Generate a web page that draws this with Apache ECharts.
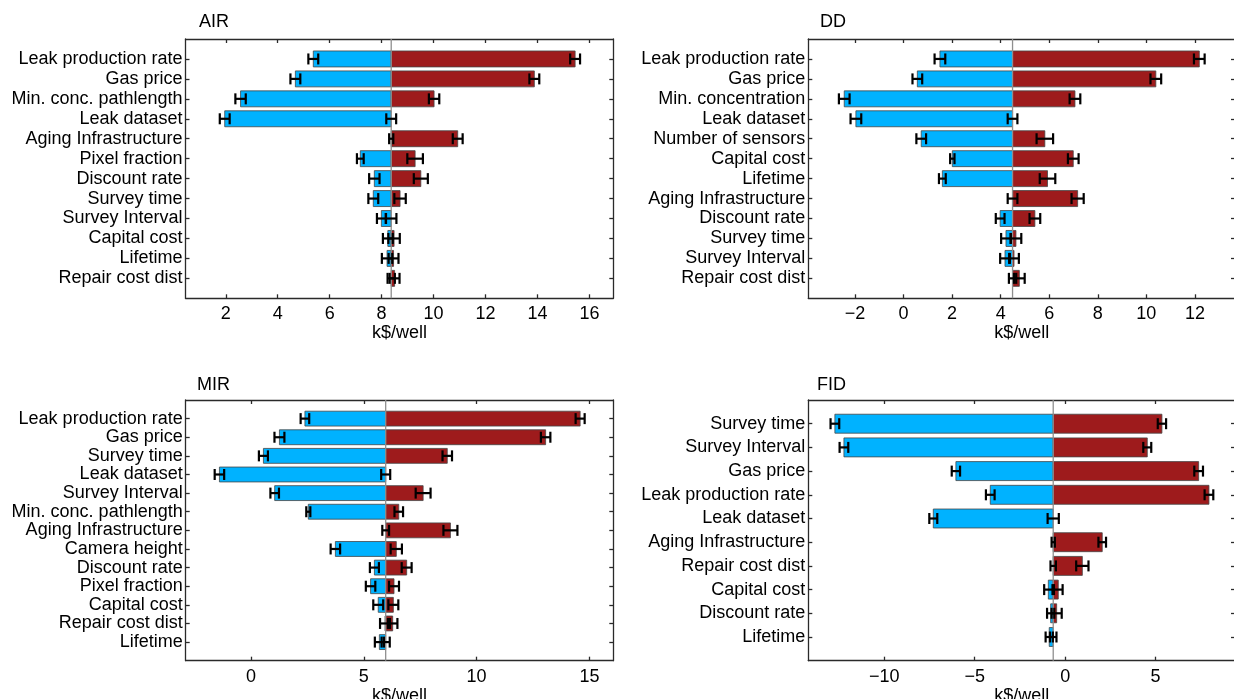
<!DOCTYPE html>
<html><head><meta charset="utf-8">
<script src="https://cdn.jsdelivr.net/npm/echarts@6/dist/echarts.min.js"></script>
<style>html,body{margin:0;padding:0;background:#fff}#c{width:1234px;height:699px}</style>
</head><body><div id="c"></div><script>
// ---------- DATA ----------
const AIR_categories = ['Leak production rate','Gas price','Min. conc. pathlength','Leak dataset','Aging Infrastructure','Pixel fraction','Discount rate','Survey time','Survey Interval','Capital cost','Lifetime','Repair cost dist'];
const AIR_base = 8.37;
const AIR_low  = [5.37, 4.68, 2.57, 1.96, 8.37, 7.18, 7.72, 7.68, 7.99, 8.24, 8.21, 8.37];
const AIR_high = [15.45, 13.88, 10.02, 8.37, 10.93, 9.29, 9.51, 8.71, 8.37, 8.48, 8.46, 8.50];
const AIR_lowErr  = [0.19, 0.19, 0.20, 0.19, 0.08, 0.13, 0.20, 0.19, 0.17, 0.19, 0.20, 0.14];
const AIR_highErr = [0.19, 0.19, 0.20, 0.19, 0.19, 0.30, 0.27, 0.22, 0.20, 0.22, 0.19, 0.19];
const AIR_xticks = [2, 4, 6, 8, 10, 12, 14, 16];

const DD_categories = ['Leak production rate','Gas price','Min. concentration','Leak dataset','Number of sensors','Capital cost','Lifetime','Aging Infrastructure','Discount rate','Survey time','Survey Interval','Repair cost dist'];
const DD_base = 4.49;
const DD_low  = [1.50, 0.57, -2.44, -1.96, 0.73, 2.01, 1.60, 4.49, 3.98, 4.22, 4.18, 4.49];
const DD_high = [12.18, 10.39, 7.06, 4.49, 5.82, 6.99, 5.93, 7.17, 5.41, 4.63, 4.55, 4.77];
const DD_lowErr  = [0.22, 0.20, 0.22, 0.22, 0.20, 0.09, 0.14, 0.20, 0.18, 0.20, 0.20, 0.15];
const DD_highErr = [0.22, 0.22, 0.22, 0.20, 0.34, 0.22, 0.32, 0.25, 0.22, 0.22, 0.20, 0.22];
const DD_xticks = [-2, 0, 2, 4, 6, 8, 10, 12];

const MIR_categories = ['Leak production rate','Gas price','Survey time','Leak dataset','Survey Interval','Min. conc. pathlength','Aging Infrastructure','Camera height','Discount rate','Pixel fraction','Capital cost','Repair cost dist','Lifetime'];
const MIR_base = 5.97;
const MIR_low  = [2.39, 1.26, 0.55, -1.40, 1.05, 2.54, 5.97, 3.74, 5.47, 5.30, 5.64, 5.94, 5.69];
const MIR_high = [14.59, 13.06, 8.70, 5.97, 7.63, 6.55, 8.84, 6.44, 6.90, 6.34, 6.31, 6.28, 5.97];
const MIR_lowErr  = [0.19, 0.22, 0.20, 0.21, 0.19, 0.09, 0.15, 0.21, 0.20, 0.21, 0.22, 0.22, 0.20];
const MIR_highErr = [0.20, 0.21, 0.21, 0.20, 0.33, 0.19, 0.31, 0.25, 0.22, 0.22, 0.22, 0.21, 0.18];
const MIR_xticks = [0, 5, 10, 15];

const FID_categories = ['Survey time','Survey Interval','Gas price','Leak production rate','Leak dataset','Aging Infrastructure','Repair cost dist','Capital cost','Discount rate','Lifetime'];
const FID_base = -0.66;
const FID_low  = [-12.73, -12.23, -6.04, -4.14, -7.29, -0.66, -0.66, -0.93, -0.80, -0.88];
const FID_high = [5.35, 4.54, 7.38, 7.95, -0.66, 2.05, 0.95, -0.38, -0.47, -0.66];
const FID_lowErr  = [0.24, 0.24, 0.23, 0.24, 0.22, 0.09, 0.15, 0.23, 0.20, 0.20];
const FID_highErr = [0.23, 0.22, 0.24, 0.24, 0.31, 0.21, 0.34, 0.24, 0.28, 0.18];
const FID_xticks = [-10, -5, 0, 5];

// ---------- STYLE / LAYOUT ----------
const FONT = "'Liberation Sans', Arial, Helvetica, sans-serif";
const BLUE = '#00B2FF', RED = '#9E1B1C', FRAME = '#2a2a2a';

const panels = [
  {name:'AIR', cats:AIR_categories, base:AIR_base, low:AIR_low, high:AIR_high, lowErr:AIR_lowErr, highErr:AIR_highErr, xticks:AIR_xticks,
   xmin:0.45, xmax:16.92, grid:{left:185.5, top:39, width:427.8, height:259.3}, title:[199, 13]},
  {name:'DD', cats:DD_categories, base:DD_base, low:DD_low, high:DD_high, lowErr:DD_lowErr, highErr:DD_highErr, xticks:DD_xticks,
   xmin:-3.92, xmax:13.65, grid:{left:808.3, top:39, width:426.7, height:259.3}, title:[820, 13]},
  {name:'MIR', cats:MIR_categories, base:MIR_base, low:MIR_low, high:MIR_high, lowErr:MIR_lowErr, highErr:MIR_highErr, xticks:MIR_xticks,
   xmin:-2.895, xmax:16.06, grid:{left:185.7, top:400, width:427.6, height:260.7}, title:[197, 376]},
  {name:'FID', cats:FID_categories, base:FID_base, low:FID_low, high:FID_high, lowErr:FID_lowErr, highErr:FID_highErr, xticks:FID_xticks,
   xmin:-14.2, xmax:9.39, grid:{left:808.3, top:400, width:426.7, height:260.7}, title:[817, 376]}
];

function barsRender(base){
  return function(params, api){
    const lo = api.value(0), hi = api.value(1), y = api.value(2);
    const h = Math.abs(api.size([0, 1])[1]) * 0.8;
    const pb = api.coord([base, y]), pl = api.coord([lo, y]), ph = api.coord([hi, y]);
    const children = [];
    const rect = (x1, x2, color) => ({type:'rect',
      shape:{x:Math.min(x1,x2), y:pb[1]-h/2, width:Math.abs(x2-x1), height:h},
      style:{fill:color, stroke:'rgba(70,70,70,0.8)', lineWidth:1}});
    if (Math.abs(pl[0]-pb[0]) > 0.5) children.push(rect(pl[0], pb[0], BLUE));
    if (Math.abs(ph[0]-pb[0]) > 0.5) children.push(rect(pb[0], ph[0], RED));
    return {type:'group', children};
  };
}
function errRender(params, api){
  const v = api.value(0), y = api.value(1), e = api.value(2);
  const a = api.coord([v-e, y]), b = api.coord([v+e, y]);
  const c = 5.5;
  const st = {stroke:'#000', lineWidth:2.2};
  return {type:'group', children:[
    {type:'line', shape:{x1:a[0], y1:a[1], x2:b[0], y2:b[1]}, style:st},
    {type:'line', shape:{x1:a[0], y1:a[1]-c, x2:a[0], y2:a[1]+c}, style:st},
    {type:'line', shape:{x1:b[0], y1:b[1]-c, x2:b[0], y2:b[1]+c}, style:st}
  ]};
}

const fmt = v => String(v).replace('-', '\u2212');
const option = {animation:false, textStyle:{fontFamily:FONT}, title:[], grid:[], xAxis:[], yAxis:[], series:[]};

panels.forEach((p, i) => {
  const n = p.cats.length;
  option.title.push({text:p.name, left:p.title[0], top:p.title[1], padding:0,
    textStyle:{fontFamily:FONT, fontSize:18, fontWeight:'normal', color:'#000'}});
  option.grid.push(Object.assign({containLabel:false, outerBoundsMode:'none'}, p.grid));
  const axLine = {show:true, onZero:false, lineStyle:{color:FRAME, width:1.3}};
  const tickStyle = {color:FRAME, width:1.3};
  const yvals = p.cats.map((_, k) => k + 1);
  option.xAxis.push({type:'value', gridIndex:i, position:'bottom', min:p.xmin, max:p.xmax,
    axisLine:axLine, axisTick:{show:true, inside:true, length:4, customValues:p.xticks, lineStyle:tickStyle},
    axisLabel:{show:true, customValues:p.xticks, formatter:fmt, fontSize:18, color:'#000', margin:7, fontFamily:FONT},
    splitLine:{show:false}, name:'k$/well', nameLocation:'middle', nameGap:22,
    nameTextStyle:{fontSize:18, color:'#000', fontFamily:FONT}});
  option.xAxis.push({type:'value', gridIndex:i, position:'top', min:p.xmin, max:p.xmax,
    axisLine:axLine, axisTick:{show:true, inside:true, length:4, customValues:p.xticks, lineStyle:tickStyle},
    axisLabel:{show:false}, splitLine:{show:false}});
  option.yAxis.push({type:'value', gridIndex:i, position:'left', inverse:true, min:0, max:n+1,
    axisLine:axLine, axisTick:{show:true, inside:true, length:4, customValues:yvals, lineStyle:tickStyle},
    axisLabel:{show:true, customValues:yvals, formatter:v => p.cats[v-1] || '', fontSize:18, color:'#000', margin:3, fontFamily:FONT},
    splitLine:{show:false}});
  option.yAxis.push({type:'value', gridIndex:i, position:'right', inverse:true, min:0, max:n+1,
    axisLine:axLine, axisTick:{show:true, inside:true, length:4, customValues:yvals, lineStyle:tickStyle},
    axisLabel:{show:false}, splitLine:{show:false}});
  const xi = 2*i, yi = 2*i;
  option.series.push({type:'custom', xAxisIndex:xi, yAxisIndex:yi, z:2, silent:true,
    renderItem:barsRender(p.base), encode:{x:[0,1], y:2},
    data:p.cats.map((_, k) => [p.low[k], p.high[k], k+1])});
  option.series.push({type:'line', xAxisIndex:xi, yAxisIndex:yi, z:3, silent:true, showSymbol:false, symbol:'none',
    lineStyle:{color:'#8f8f8f', width:1.3}, data:[[p.base, 0], [p.base, n+1]]});
  const errData = [];
  p.cats.forEach((_, k) => {
    errData.push([p.low[k], k+1, p.lowErr[k]]);
    errData.push([p.high[k], k+1, p.highErr[k]]);
  });
  option.series.push({type:'custom', xAxisIndex:xi, yAxisIndex:yi, z:4, silent:true,
    renderItem:errRender, encode:{x:0, y:1}, data:errData});
});

const chart = echarts.init(document.getElementById('c'), null, {renderer:'canvas'});
chart.setOption(option);
</script></body></html>
